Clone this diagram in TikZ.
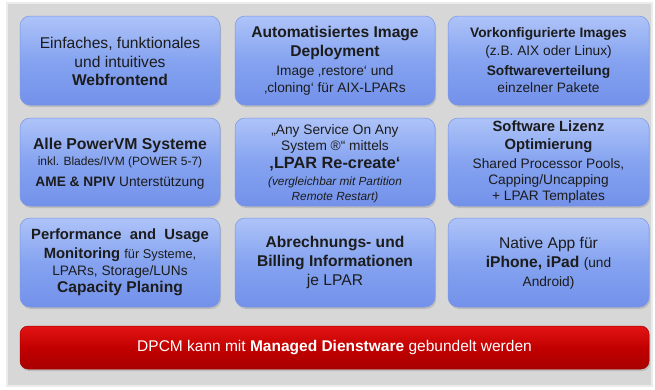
\documentclass[tikz,border=0pt]{standalone}
\usepackage{fontspec}
\setmainfont{Liberation Sans}
\usetikzlibrary{shadows}
\definecolor{panelbg}{HTML}{D7D7D7}
\definecolor{panelrim}{HTML}{ECECEC}
\definecolor{btop}{HTML}{AEC3F8}
\definecolor{bmid}{HTML}{85A3F0}
\definecolor{bbot}{HTML}{7391EA}
\definecolor{bedge}{HTML}{7A96E4}
\definecolor{rtop}{HTML}{E41414}
\definecolor{rmid}{HTML}{C20000}
\definecolor{rbot}{HTML}{A80000}
\definecolor{txt}{HTML}{1C1C1C}
\newcommand{\szL}{\fontsize{15.6}{17}\selectfont}
\newcommand{\szM}{\fontsize{13.7}{17}\selectfont}
\newcommand{\szS}{\fontsize{12}{17}\selectfont}
\newcommand{\szX}{\fontsize{11.8}{17}\selectfont}
\tikzset{
  bluebox/.style={rounded corners=10pt, draw=bedge, line width=0.5pt,
    top color=btop, bottom color=bbot, middle color=bmid,
    drop shadow={shadow xshift=1.2pt, shadow yshift=-2pt, opacity=0.3}},
  redbox/.style={rounded corners=8pt, draw=rbot, line width=0.5pt,
    top color=rtop, bottom color=rbot, middle color=rmid,
    drop shadow={shadow xshift=1.2pt, shadow yshift=-2pt, opacity=0.3}},
  boxtext/.style={align=center, text=txt, font=\szM, inner sep=0pt}
}
\begin{document}
\begin{tikzpicture}[x=1pt, y=-1pt]
\useasboundingbox (0,0) rectangle (655,389);
\fill[white] (0,0) rectangle (655,389);
\draw[panelrim, line width=1.5pt, fill=panelbg] (7,3) rectangle (652,386);

% boxes
\path[bluebox] (20,16) rectangle (220,105);
\path[bluebox] (235,16) rectangle (435,105);
\path[bluebox] (448,16) rectangle (649,105);
\path[bluebox] (20,118) rectangle (220,206);
\path[bluebox] (235,118) rectangle (435,206);
\path[bluebox] (448,118) rectangle (649,206);
\path[bluebox] (20,218) rectangle (220,307);
\path[bluebox] (235,218) rectangle (435,307);
\path[bluebox] (448,218) rectangle (649,307);
\path[redbox] (20,326) rectangle (649,369);

% texts
\node[boxtext] (t11) at (120,61.5) {\szL Einfaches, funktionales\\[1.5pt]
  \szL und intuitives\\[1.5pt]
  \szL\bfseries Webfrontend};
\node[boxtext] (t12) at (335,61) {\szL\bfseries Automatisiertes Image\\[2pt]
  \szL\bfseries Deployment\\[2pt]
  \szM Image ‚restore‘ und\\
  \szM ‚cloning‘ für AIX-LPARs};
\node[boxtext] (t13) at (548.5,60.5) {\szM\bfseries Vorkonfigurierte Images\\[1pt]
  \szM (z.B. AIX oder Linux)\\[3pt]
  \szM\bfseries Softwareverteilung\\
  \szM einzelner Pakete};
\node[boxtext] (t21) at (120,163.5) {\fontsize{15.8}{17}\selectfont\bfseries Alle PowerVM Systeme\\[-1pt]
  \szS inkl. Blades/IVM (POWER 5-7)\\[4pt]
  \szM\bfseries AME \& NPIV \mdseries Unterstützung};
\node[boxtext] (t22) at (335,164) {\szM „Any Service On Any\\[-1pt]
  \szM System ®“ mittels\\[1pt]
  \fontsize{16.3}{17}\selectfont\bfseries ‚LPAR Re-create‘\\[0pt]
  \szX\itshape (vergleichbar mit Partition\\[-2pt]
  \szX\itshape Remote Restart)};
\node[boxtext] (t23) at (548.5,162.5) {\fontsize{14.8}{17}\selectfont\bfseries Software Lizenz\\[1pt]
  \fontsize{14.8}{17}\selectfont\bfseries Optimierung\\[2pt]
  \szM Shared Processor Pools,\\[-1pt]
  \szM Capping/Uncapping\\[-1pt]
  \szM + LPAR Templates};
\node[boxtext] (t31) at (120,262.5) {\fontsize{14.8}{17}\selectfont\bfseries Performance\ \ and\ \ Usage\\[2pt]
  \fontsize{14.8}{17}\selectfont\bfseries Monitoring\ \mdseries\fontsize{12.8}{17}\selectfont für Systeme,\\
  \szM LPARs, Storage/LUNs\\
  \fontsize{15.6}{17}\selectfont\bfseries Capacity Planing};
\node[boxtext] (t32) at (335,262.5) {\szL\bfseries Abrechnungs- und\\[2.5pt]
  \szL\bfseries Billing Informationen\\[2pt]
  \szL je LPAR};
\node[boxtext] (t33) at (548.5,263) {\szL Native App für\\[2pt]
  \szL\bfseries iPhone, iPad \mdseries\szM (und\\[2pt]
  \szM Android)};
\node[boxtext, text=white] (tr) at (334.5,347.5) {\fontsize{15.5}{17}\selectfont DPCM\ kann\ mit \textbf{Managed\ Dienstware} gebundelt\ werden};
\end{tikzpicture}
\end{document}
